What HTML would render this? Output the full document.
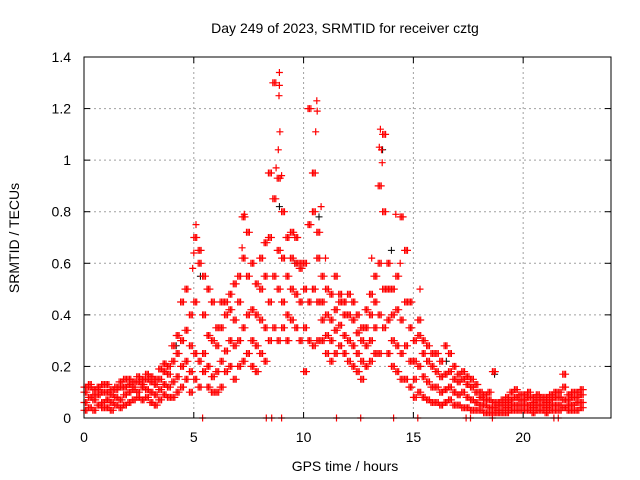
<!DOCTYPE html>
<html><head><meta charset="utf-8"><style>
body{margin:0;background:#fff;}
svg{display:block;font-family:"Liberation Sans",sans-serif;}
</style></head><body>
<svg id="chart" width="640" height="480" viewBox="0 0 640 480">
<rect width="640" height="480" fill="#fff"/>
<g id="grid"></g>
<g id="marks"></g>
<rect x="84" y="57" width="527" height="361" fill="none" stroke="#000" stroke-width="1"/>
<g id="ticks"></g>
<text x="345" y="33" font-size="14" text-anchor="middle">Day 249 of 2023, SRMTID for receiver cztg</text>
<text x="345" y="471" font-size="14" text-anchor="middle">GPS time / hours</text>
<text x="0" y="0" font-size="14" text-anchor="middle" transform="translate(19,238) rotate(-90)">SRMTID / TECUs</text>
</svg>
<script>
const xTicks=[0,5,10,15,20];
const yTicks=[0,0.2,0.4,0.6,0.8,1,1.2,1.4];
const yTickLabels=["0","0.2","0.4","0.6","0.8","1","1.2","1.4"];
const lo=[.03,.04,.03,.05,.04,.04,.03,.05,.04,.05,.06,.07,.08,.07,.08,.06,.05,.07,.09,.08,.08,.10,.12,.15,.10,.15,.12,.18,.12,.10,.10,.12,.18,.20,.15,.20,.22,.25,.20,.18,.25,.22,.30,.35,.30,.35,.30,.38,.35,.30,.18,.30,.28,.30,.30,.25,.22,.25,.28,.25,.22,.20,.18,.15,.20,.22,.25,.25,.35,.25,.20,.18,.15,.15,.12,.08,.10,.08,.07,.06,.06,.05,.06,.07,.05,.05,.04,.04,.03,.03,.03,.02,.02,.02,.02,.02,.02,.03,.03,.03,.03,.03,.02,.03,.03,.02,.03,.03,.03,.04,.03,.03,.03,.04];
const mid=[.06,.08,.07,.09,.06,.07,.06,.08,.07,.09,.10,.11,.10,.12,.11,.10,.09,.11,.13,.12,.14,.16,.20,.22,.18,.25,.22,.25,.20,.16,.18,.22,.26,.30,.28,.30,.35,.40,.30,.28,.38,.35,.45,.55,.50,.45,.40,.50,.48,.45,.35,.45,.50,.45,.38,.32,.30,.34,.36,.32,.30,.28,.25,.22,.28,.30,.35,.40,.50,.38,.30,.28,.25,.28,.22,.15,.20,.16,.14,.12,.12,.10,.11,.12,.10,.09,.10,.08,.07,.06,.05,.05,.04,.04,.03,.03,.04,.05,.05,.05,.05,.05,.04,.05,.05,.04,.05,.05,.05,.07,.05,.05,.06,.06];
const hi=[.10,.12,.09,.11,.10,.10,.09,.11,.12,.12,.13,.12,.14,.13,.15,.14,.13,.15,.18,.17,.22,.25,.30,.34,.28,.45,.60,.40,.32,.30,.28,.35,.40,.42,.38,.45,.62,.55,.42,.40,.50,.55,.70,.85,.65,.62,.55,.62,.60,.58,.50,.75,.80,.62,.45,.40,.38,.42,.45,.40,.40,.38,.33,.30,.35,.40,.45,.60,.80,.50,.40,.42,.38,.45,.35,.22,.32,.25,.22,.20,.18,.16,.17,.18,.15,.14,.15,.13,.12,.10,.08,.07,.07,.06,.05,.05,.06,.07,.08,.07,.07,.08,.06,.07,.07,.06,.07,.08,.08,.12,.07,.08,.08,.09];
const topv=[.12,.13,.11,.12,.13,.13,.11,.12,.14,.15,.15,.14,.16,.15,.17,.16,.15,.19,.21,.20,.28,.32,.45,.50,.40,.70,.65,.55,.50,.45,.35,.45,.45,.48,.52,.55,.78,.72,.60,.52,.62,.68,.95,1.30,.93,.80,.70,.72,.70,.60,.60,1.20,.95,.72,.55,.50,.48,.55,.48,.45,.48,.45,.40,.35,.42,.48,.55,.90,1.10,.60,.50,.55,.78,.65,.45,.30,.38,.30,.28,.25,.25,.22,.28,.25,.20,.17,.18,.16,.15,.13,.10,.09,.10,.18,.06,.07,.08,.10,.11,.09,.09,.10,.08,.09,.08,.08,.09,.10,.10,.17,.09,.10,.10,.11];
const times=lo.map((_,i)=>i<110?i*0.2:22+(i-110)*0.2);
const peakT=[8.9,8.9,8.88,8.92,8.85,10.6,10.62,10.55,13.5,13.45,13.55,13.58,9.0,8.75,7.3,5.1,14.2,9.55,10.8,13.1,5.0,4.95,7.2,11.0,14.4,15.3];
const peakV=[1.34,1.29,1.25,1.11,1.04,1.23,1.19,1.11,1.12,1.05,1.04,0.99,0.94,0.97,0.79,0.75,0.79,0.72,0.82,0.62,0.64,0.58,0.66,0.62,0.60,0.5];
const zeroT=[5.4,8.3,8.55,9.0,11.5,12.6,14.1,15.2,17.4,17.6,18.6,21.4,21.6];
const blackT=[4.2,5.3,8.9,9.6,10.7,13.6,14.0,16.5,18.7,12.2];
const blackV=[0.28,0.55,0.82,0.60,0.78,1.04,0.65,0.22,0.17,0.45];
const NS="http://www.w3.org/2000/svg";
const X=t=>84+t*(527/24);
const Y=v=>418-v*(361/1.4);
const grid=document.getElementById('grid'),ticks=document.getElementById('ticks'),marks=document.getElementById('marks');
function mk(tag,attrs,parent){const e=document.createElementNS(NS,tag);for(const k in attrs)e.setAttribute(k,attrs[k]);parent.appendChild(e);return e;}
xTicks.forEach(t=>{
 if(t>0){const g=mk('line',{x1:X(t),x2:X(t),y1:57,y2:418,stroke:'#a0a0a0','stroke-dasharray':'2,3'},grid);
 
 }
 mk('line',{x1:X(t),x2:X(t),y1:418,y2:412,stroke:'#000'},ticks);
 mk('line',{x1:X(t),x2:X(t),y1:57,y2:63,stroke:'#000'},ticks);
 const l=mk('text',{x:X(t),y:442,'font-size':14,'text-anchor':'middle'},ticks);l.textContent=t;
 
 
});
yTicks.forEach((v,i)=>{
 if(v>0&&v<1.4){const g=mk('line',{x1:84,x2:611,y1:Y(v),y2:Y(v),stroke:'#a0a0a0','stroke-dasharray':'2,3'},grid);
 
 }
 mk('line',{x1:84,x2:90,y1:Y(v),y2:Y(v),stroke:'#000'},ticks);
 mk('line',{x1:611,x2:605,y1:Y(v),y2:Y(v),stroke:'#000'},ticks);
 const l=mk('text',{x:71,y:Y(v)+5,'font-size':14,'text-anchor':'end'},ticks);l.textContent=yTickLabels[i];
 
 
});
let dR='',dB='';
function plus(t,v){const x=X(t),y=Y(v);return `M${(x-3.5).toFixed(1)} ${y.toFixed(1)}h7M${x.toFixed(1)} ${(y-3.5).toFixed(1)}v7`;}
blackT.forEach((t,i)=>{dB+=plus(t,blackV[i]);});
[lo,mid,hi,topv].forEach(arr=>arr.forEach((v,i)=>{dR+=plus(times[i],v)+plus(times[i]+0.067,v)+plus(times[i]+0.133,v);}));
peakT.forEach((t,i)=>{dR+=plus(t,peakV[i]);});
zeroT.forEach(t=>{dR+=plus(t,0);});
const pb=mk('path',{d:dB,stroke:'#000','stroke-width':1,fill:'none'},marks);


const pr=mk('path',{d:dR,stroke:'#f00','stroke-width':1.2,fill:'none'},marks);


</script>
</body></html>
